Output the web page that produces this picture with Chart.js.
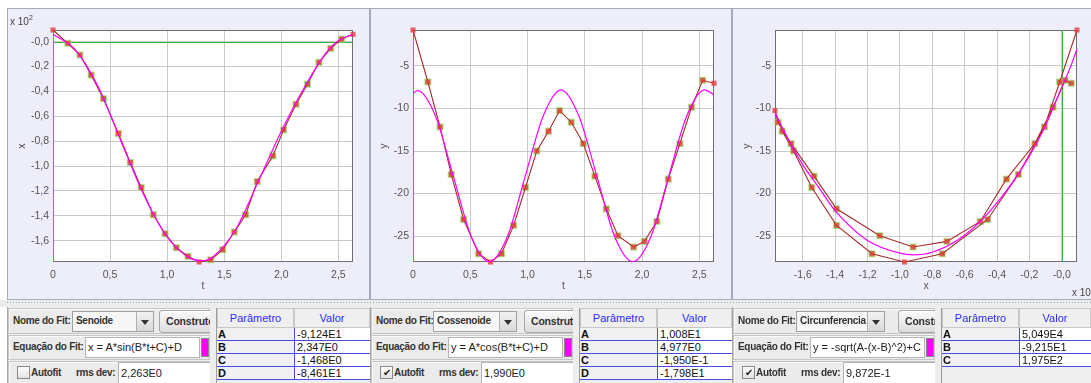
<!DOCTYPE html>
<html>
<head>
<meta charset="utf-8">
<title>Fits</title>
<script src="https://cdn.jsdelivr.net/npm/chart.js@4.4.1/dist/chart.umd.min.js"></script>
<style>
  html, body { margin: 0; padding: 0; }
  body { width: 1091px; height: 383px; overflow: hidden; position: relative; background: #fff;
         font-family: "Liberation Sans", Arial, sans-serif; }
  .plotPanel { position: absolute; top: 8px; height: 292px; box-sizing: border-box;
               background: #eeeefb; border: 1px solid #a3aabb; }
  .chartBox { position: absolute; top: 9px; height: 290px; }
  .power { position: absolute; font-size: 10px; color: #444; white-space: nowrap; }
  .power sup { font-size: 7px; position: relative; top: -1px; }
  .splitter { position: absolute; left: 0; top: 300px; width: 1091px; height: 7px; background: #ececec; }
  .splitter div { position: absolute; left: 7px; right: 0; top: 2px; height: 1px;
     background: repeating-linear-gradient(90deg, #a0a0a0 0 1px, transparent 1px 3px); }
  .bottom { position: absolute; top: 307px; height: 76px; background: #eeeeee;
            border-left: 1px solid #a9a9a9; overflow: hidden; box-sizing: border-box; }
  .fitBox { position: absolute; left: 0; top: 0; width: 202px; height: 76px; overflow: hidden; }
  .row { position: absolute; left: 0; width: 202px; box-sizing: border-box; border: 1px solid #c6c6c6;
         background: #ebebeb; box-shadow: inset 1px 1px 0 #fafafa; }
  .lbl { position: absolute; font-weight: bold; font-size: 10px; letter-spacing: -0.3px; line-height: 12px;
         color: #333; white-space: nowrap; }
  .combo { position: absolute; top: 4px; height: 21px; box-sizing: border-box; border: 1px solid #a0a0a0;
           background: #f6f6f6; font-weight: bold; font-size: 10px; letter-spacing: -0.3px; line-height: 18px;
           color: #333; padding-left: 3px; white-space: nowrap; overflow: hidden; }
  .combo i { position: absolute; right: 0; top: 0; width: 17px; height: 19px; box-sizing: border-box;
             border-left: 1px solid #b0b0b0; background: linear-gradient(#f2f2f2, #d8d8d8); }
  .combo i:after { content: ""; position: absolute; left: 4px; top: 8px; border-top: 5px solid #333;
                   border-left: 4px solid transparent; border-right: 4px solid transparent; }
  .btn { position: absolute; top: 3px; width: 70px; height: 23px; box-sizing: border-box; border: 1px solid #a8a8a8;
         border-radius: 3px; background: linear-gradient(#fbfbfb, #dcdcdc); font-weight: bold; font-size: 10.5px;
         letter-spacing: -0.2px; line-height: 21px; color: #333; padding-left: 6px; white-space: nowrap; }
  .field { position: absolute; background: #fff; border: 1px solid #b4b4b4; box-sizing: border-box;
           font-size: 11px; color: #222; padding-left: 2px; white-space: nowrap; }
  .swatch { position: absolute; left: 193px; top: 31px; width: 8px; height: 19px; background: #ff00ff;
            border: 1px solid #888; box-sizing: border-box; }
  .check { position: absolute; left: 9px; top: 59px; width: 13px; height: 13px; box-sizing: border-box;
           border: 1px solid #8a8a8a; background: linear-gradient(#fdfdfd, #e2e2e2); font-size: 10px;
           line-height: 11px; text-align: center; color: #222; }
  .table { position: absolute; left: 208px; top: 1px; height: 76px; border-left: 1px solid #9c9c9c; }
  .cell { position: absolute; box-sizing: border-box; font-size: 11px; color: #111; white-space: nowrap; overflow: hidden; }
  .head { top: 0; height: 20px; background: #efefef; border: 1px solid #c8c8c8; color: #2b2bff;
          text-align: center; line-height: 18px; font-size: 11px; }
  .pname { background: #f0f0f0; font-weight: bold; border-bottom: 1px solid #4a4ae6; padding-left: 1px; line-height: 12px; }
  .pval { background: #fff; border-bottom: 1px solid #4a4ae6; border-left: 1px solid #4a4ae6; padding-left: 2px; line-height: 12px; }
</style>
</head>
<body>
<div class="plotPanel" style="left:7px;width:363px"></div>
<div class="plotPanel" style="left:370px;width:362px"></div>
<div class="plotPanel" style="left:732px;width:362px"></div>
<div class="chartBox" style="left:8px;width:361px"><canvas id="sinChart"></canvas></div>
<div class="chartBox" style="left:371px;width:360px"><canvas id="cosChart"></canvas></div>
<div class="chartBox" style="left:733px;width:358px"><canvas id="circChart"></canvas></div>
<div class="power" style="left:10px;top:15px">x 10<sup>2</sup></div>
<div class="power" style="left:1072px;top:286px">x 10<sup>2</sup></div>
<div class="splitter"><div></div></div>
<div id="bottomArea"></div>

<script>
// time of each frame (s)
const tVals = [0, 0.13, 0.236, 0.334, 0.442, 0.573, 0.677, 0.773, 0.879, 0.982, 1.081, 1.183, 1.28,
  1.382, 1.487, 1.588, 1.688, 1.789, 1.926, 2.02, 2.129, 2.229, 2.33, 2.432, 2.529, 2.628];
// x position (raw units, axis shows x 10^2)
const xVals = [9.4, -1.3, -10.7, -26.8, -45.8, -73.8, -97.1, -117.2, -139.1, -154.4, -165.6, -172.6, -177.1,
  -175.3, -167.2, -153.0, -139.1, -112.4, -91.8, -70.9, -50.3, -34.2, -16.6, -5.4, 2.1, 5.9];
// y position
const yVals = [-0.77, -6.88, -12.16, -17.75, -23.04, -27.07, -28.04, -27.07, -23.74, -19.28, -14.98, -12.67, -10.24,
  -11.61, -14.12, -17.95, -21.79, -24.95, -26.28, -25.62, -23.27, -18.3, -14.12, -9.85, -6.68, -7.03];

// fitted curves
const sinFitT = [0, 0.2, 0.4, 0.6, 0.8, 1.0, 1.2, 1.3, 1.4, 1.6, 1.8, 2.0, 2.2, 2.4, 2.5, 2.628];
const sinFitX = [6, -7, -37, -81, -124, -157, -174, -176, -173, -151, -112, -72, -37, -8, 1, 6];
const cosFitT = [0, 0.04, 0.197, 0.353, 0.51, 0.666, 0.823, 0.979, 1.136, 1.292, 1.449, 1.606, 1.762,
  1.919, 2.076, 2.232, 2.389, 2.545, 2.628];
const cosFitY = [-8.2, -7.9, -10.9, -18.0, -25.1, -28.0, -25.1, -18.0, -10.9, -7.8, -10.9, -18.0, -25.1,
  -28.0, -25.1, -18.0, -10.9, -7.8, -8.4];
const circFitX = [-177.1, -170, -160, -150, -140, -120, -100, -92, -80, -60, -40, -20, -10, 0, 5, 9.4];
const circFitY = [-10.5, -13.2, -16.6, -19.3, -22.0, -25.5, -27.0, -27.2, -26.9, -24.9, -21.1, -15.6, -12.0, -7.5, -5.3, -3.0];

// axis ticks
const tTicks = [0, 0.5, 1, 1.5, 2, 2.5];
const xTicks = [0, -20, -40, -60, -80, -100, -120, -140, -160];
const yTicks = [-5, -10, -15, -20, -25];

// fit panels
const fitNames = ['Senoide', 'Cossenoide', 'Circunferencia'];
const fitEquations = ['x = A*sin(B*t+C)+D', 'y = A*cos(B*t+C)+D', 'y = -sqrt(A-(x-B)^2)+C'];
const rmsDev = ['2,263E0', '1,990E0', '9,872E-1'];
const autofit = [false, true, true];
const paramNames = [['A', 'B', 'C', 'D'], ['A', 'B', 'C', 'D'], ['A', 'B', 'C']];
const paramValues = [
  ['-9,124E1', '2,347E0', '-1,468E0', '-8,461E1'],
  ['1,008E1', '4,977E0', '-1,950E-1', '-1,798E1'],
  ['5,049E4', '-9,215E1', '1,975E2']
];

const pairs = (a, b) => a.map((v, i) => ({ x: v, y: b[i] }));
const comma = v => v.toFixed(1).replace('.', ',');
const hundreds = v => (v === 0 ? '-0,0' : comma(v / 100));
const tLabel = v => (v === 0 ? '0' : comma(v));

// white plot area, frame and green zero lines
const plotFrame = {
  id: 'plotFrame',
  beforeDraw(chart) {
    const { ctx, chartArea: a } = chart;
    ctx.save();
    ctx.fillStyle = '#ffffff';
    ctx.fillRect(a.left, a.top, a.width, a.height);
    ctx.restore();
  },
  beforeDatasetsDraw(chart) {
    const { ctx, chartArea: a, scales: { x, y } } = chart;
    ctx.save();
    ctx.lineWidth = 1;
    ctx.strokeStyle = '#6e6e6e';
    ctx.strokeRect(a.left + 0.5, a.top + 0.5, a.width - 1, a.height - 1);
    ctx.strokeStyle = '#3cb43c';
    ctx.beginPath();
    if (x.min <= 0 && x.max >= 0) {
      const px = Math.round(x.getPixelForValue(0)) + 0.5;
      ctx.moveTo(px, a.top); ctx.lineTo(px, a.bottom);
    }
    if (y.min <= 0 && y.max >= 0) {
      const py = Math.round(y.getPixelForValue(0)) + 0.5;
      ctx.moveTo(a.left, py); ctx.lineTo(a.right, py);
    }
    ctx.stroke();
    ctx.restore();
  }
};

// no green halo on points that sit on the plot edge
function haloRadius(ctx) {
  const p = ctx.raw;
  const s = ctx.chart.scales;
  if (!p || !s.x) return 0;
  const edge = p.x === s.x.min || p.x === s.x.max || p.y === s.y.min || p.y === s.y.max;
  return edge ? 0 : 5;
}

const tickFont = { family: 'Liberation Sans', size: 10.5 };

function axis(ticks, fmt, title, tickPad, titlePad, extra) {
  return Object.assign({
    type: 'linear',
    afterBuildTicks: s => { s.ticks = ticks.map(v => ({ value: v })); },
    grid: { color: '#cacaca', lineWidth: 1, drawTicks: false },
    border: { display: false },
    ticks: { color: '#555', font: tickFont, callback: fmt, autoSkip: false, maxRotation: 0, padding: tickPad },
    title: { display: true, text: title, color: '#555', padding: titlePad,
             font: { family: 'Liberation Sans', size: 10.5 } }
  }, extra);
}

function fitChart(id, o) {
  return new Chart(document.getElementById(id), {
    type: 'scatter',
    data: {
      datasets: [
        { data: o.fit, showLine: true, borderColor: '#ff00ff', borderWidth: 1.2, pointRadius: 0,
          cubicInterpolationMode: 'monotone' },
        { data: o.points, showLine: true, borderColor: '#a52c2c', borderWidth: 1.1, pointStyle: 'rect',
          pointRadius: 3.6, pointBackgroundColor: 'rgba(228,58,58,0.78)', pointBorderWidth: 0, clip: false },
        { data: o.points, showLine: false, pointStyle: 'rect', pointRadius: haloRadius,
          pointBackgroundColor: 'rgba(140,225,100,0.75)', pointBorderWidth: 0, clip: false }
      ]
    },
    options: {
      animation: false,
      responsive: true,
      maintainAspectRatio: false,
      events: [],
      layout: { padding: { left: 0, top: 21, right: o.padRight, bottom: 0 } },
      plugins: { legend: { display: false }, tooltip: { enabled: false } },
      scales: {
        x: axis(o.xTicks, o.xFmt, o.xTitle, 7, { top: 0, bottom: 7 }, {
          min: o.xMin, max: o.xMax,
          afterFit: s => { s.height = 37; }
        }),
        y: axis(o.yTicks, o.yFmt, o.yTitle, 4, { top: o.yTitlePad, bottom: 0 }, {
          min: o.yMin, max: o.yMax,
          afterFit: s => { s.width = o.yWidth; }
        })
      }
    },
    plugins: [plotFrame]
  });
}

fitChart('sinChart', {
  points: pairs(tVals, xVals), fit: pairs(sinFitT, sinFitX),
  xMin: 0, xMax: tVals[tVals.length - 1], yMin: Math.min(...xVals), yMax: Math.max(...xVals),
  xTicks: tTicks, yTicks: xTicks, xFmt: tLabel, yFmt: hundreds, xTitle: 't', yTitle: 'x',
  yWidth: 45, padRight: 16, yTitlePad: 7.7
});
fitChart('cosChart', {
  points: pairs(tVals, yVals), fit: pairs(cosFitT, cosFitY),
  xMin: 0, xMax: tVals[tVals.length - 1], yMin: Math.min(...yVals), yMax: Math.max(...yVals),
  xTicks: tTicks, yTicks: yTicks, xFmt: tLabel, yFmt: v => String(v), xTitle: 't', yTitle: 'y',
  yWidth: 42, padRight: 17, yTitlePad: 6.7
});
fitChart('circChart', {
  points: pairs(xVals, yVals), fit: pairs(circFitX, circFitY),
  xMin: Math.min(...xVals), xMax: Math.max(...xVals), yMin: Math.min(...yVals), yMax: Math.max(...yVals),
  xTicks: xTicks, yTicks: yTicks, xFmt: hundreds, yFmt: v => String(v), xTitle: 'x', yTitle: 'y',
  yWidth: 42, padRight: 14, yTitlePad: 7.7
});

// bottom fit panels
const bottomLayout = [
  { left: 7, width: 363, comboL: 64, comboW: 82, buttonL: 151 },
  { left: 370, width: 362, comboL: 62, comboW: 84, buttonL: 153 },
  { left: 732, width: 359, comboL: 63, comboW: 89, buttonL: 165 }
];

let html = '';
bottomLayout.forEach((g, i) => {
  const tw = g.width - 210;
  const c1 = 77;
  let rows = '';
  paramNames[i].forEach((p, k) => {
    const top = 20 + k * 13;
    rows += `<div class="cell pname" style="left:0;top:${top}px;width:${c1}px;height:13px">${p}</div>` +
            `<div class="cell pval" style="left:${c1}px;top:${top}px;width:${tw - c1}px;height:13px">${paramValues[i][k]}</div>`;
  });
  html += `<div class="bottom" style="left:${g.left}px;width:${g.width}px">
    <div class="fitBox">
      <div class="row" style="top:1px;height:26px"></div>
      <div class="lbl" style="left:5px;top:8px">Nome do Fit:</div>
      <div class="combo" style="left:${g.comboL}px;width:${g.comboW}px">${fitNames[i]}<i></i></div>
      <div class="btn" style="left:${g.buttonL}px">Construtor</div>
      <div class="row" style="top:28px;height:25px"></div>
      <div class="lbl" style="left:5px;top:34px">Equação do Fit:</div>
      <div class="field" style="left:77px;top:30px;width:115px;height:21px;line-height:19px">${fitEquations[i]}</div>
      <div class="swatch"></div>
      <div class="row" style="top:54px;height:24px"></div>
      <div class="check">${autofit[i] ? '✔' : ''}</div>
      <div class="lbl" style="left:23px;top:60px">Autofit</div>
      <div class="lbl" style="left:68px;top:60px">rms dev:</div>
      <div class="field" style="left:110px;top:55px;width:95px;height:25px;line-height:21px">${rmsDev[i]}</div>
    </div>
    <div class="table" style="width:${tw}px">
      <div class="cell head" style="left:0;width:${c1}px">Parâmetro</div>
      <div class="cell head" style="left:${c1}px;width:${tw - c1}px">Valor</div>
      ${rows}
    </div>
  </div>`;
});
document.getElementById('bottomArea').innerHTML = html;
</script>
</body>
</html>
